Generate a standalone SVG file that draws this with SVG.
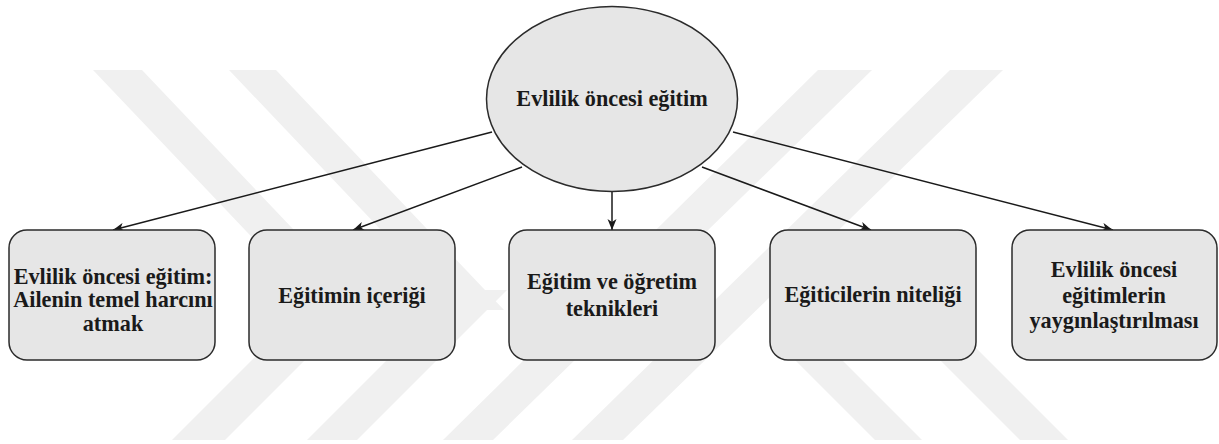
<svg xmlns="http://www.w3.org/2000/svg" width="1219" height="444" viewBox="0 0 1219 444">
  <defs>
    <style>
      .wm { fill: #f0f0f0; stroke: none; }
      .node { fill: #e6e6e6; stroke: #2b2b2b; stroke-width: 1.5; }
      .edge { fill: none; stroke: #1a1a1a; stroke-width: 1.5; }
      text { font-family: 'Liberation Serif', 'Times New Roman', 'DejaVu Serif', serif; font-weight: 700; font-size: 23.4px; fill: #1a1a1a; text-anchor: middle; }
    </style>
    <marker id="arrow" markerUnits="userSpaceOnUse" markerWidth="12" markerHeight="10" refX="11" refY="5" orient="auto">
      <path d="M0,0.5 L11,5 L0,9.5 L3,5 Z" fill="#1a1a1a"/>
    </marker>
  </defs>

  <rect x="0" y="0" width="1219" height="444" fill="#ffffff"/>

  <g id="watermark">
    <polygon class="wm" points="93,70 142,70 370,310 321,310"/>
    <polygon class="wm" points="229,70 276,70 504,310 457,310"/>
    <polygon class="wm" points="172,440 225,440 375,290 322,290"/>
    <polygon class="wm" points="307,440 357,440 507,290 457,290"/>
    <polygon class="wm" points="818,70 872,70 493,440 443,440"/>
    <polygon class="wm" points="950,70 1003,70 623,440 572,440"/>
    <polygon class="wm" points="875,440 922,440 817,335 770,335"/>
    <polygon class="wm" points="1020,440 1068,440 963,335 915,335"/>
  </g>

  <g id="connectors">
    <line class="edge" x1="492" y1="132" x2="113" y2="230" marker-end="url(#arrow)"/>
    <line class="edge" x1="522" y1="167" x2="353" y2="230" marker-end="url(#arrow)"/>
    <line class="edge" x1="612" y1="192" x2="612" y2="230" marker-end="url(#arrow)"/>
    <line class="edge" x1="702" y1="167" x2="871" y2="230" marker-end="url(#arrow)"/>
    <line class="edge" x1="733" y1="132" x2="1113" y2="230" marker-end="url(#arrow)"/>
  </g>

  <g id="root">
    <ellipse class="node" cx="612" cy="99" rx="125.5" ry="92.5"/>
    <g transform="translate(612,0) scale(0.95,1)">
      <text x="0" y="106">Evlilik öncesi eğitim</text>
    </g>
  </g>

  <g id="node1">
    <rect class="node" x="9" y="230" width="206" height="130" rx="18" ry="18"/>
    <g transform="translate(113,0) scale(0.95,1)">
      <text x="0" y="284">Evlilik öncesi eğitim:</text>
      <text x="0" y="307.5">Ailenin temel harcını</text>
      <text x="0" y="331">atmak</text>
    </g>
  </g>

  <g id="node2">
    <rect class="node" x="249" y="230" width="206" height="130" rx="18" ry="18"/>
    <g transform="translate(352,0) scale(0.95,1)">
      <text x="0" y="303">Eğitimin içeriği</text>
    </g>
  </g>

  <g id="node3">
    <rect class="node" x="509" y="230" width="206" height="130" rx="18" ry="18"/>
    <g transform="translate(612,0) scale(0.95,1)">
      <text x="0" y="289">Eğitim ve öğretim</text>
      <text x="0" y="316">teknikleri</text>
    </g>
  </g>

  <g id="node4">
    <rect class="node" x="770" y="230" width="206" height="130" rx="18" ry="18"/>
    <g transform="translate(873,0) scale(0.95,1)">
      <text x="0" y="302">Eğiticilerin niteliği</text>
    </g>
  </g>

  <g id="node5">
    <rect class="node" x="1012" y="230" width="205" height="130" rx="18" ry="18"/>
    <g transform="translate(1114,0) scale(0.95,1)">
      <text x="0" y="277">Evlilik öncesi</text>
      <text x="0" y="303">eğitimlerin</text>
      <text x="0" y="328">yaygınlaştırılması</text>
    </g>
  </g>
</svg>
